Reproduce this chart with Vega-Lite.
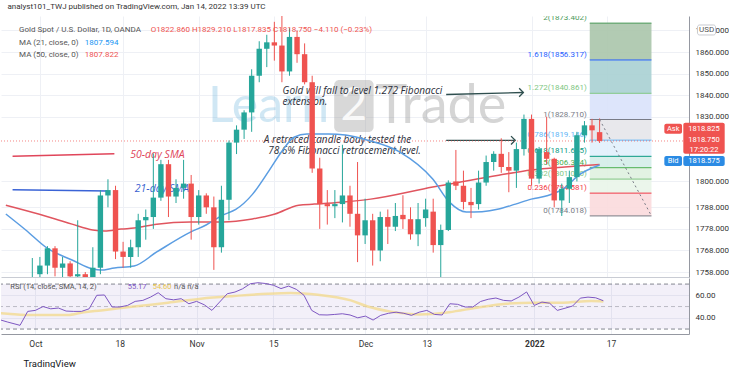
{
"$schema": "https://vega.github.io/schema/vega-lite/v6.json",
"background": "white",
"padding": {"left": 0, "top": 3, "right": 0, "bottom": 0},
"title": {"text": "analyst101_TWJ published on TradingView.com, Jan 14, 2022 13:39 UTC", "anchor": "start", "fontSize": 8, "font": "Roboto", "fontWeight": "normal", "color": "#333333", "offset": 5, "dx": 7},
"config": {"view": {"stroke": null}, "font": "Roboto", "axis": {"labelFont": "Roboto", "titleFont": "Roboto", "gridColor": "#eef0f5", "domainColor": "#9598a1", "ticks": false, "labelFontSize": 8, "labelColor": "#333333", "labelOverlap": false, "labelSeparation": 0, "labelFlush": false}},
"spacing": 1,
"datasets": {
"bars": [
{"t":-4,"o":1750,"h":1754,"l":1741,"c":1749},
{"t":-3,"o":1749,"h":1752,"l":1726,"c":1734},
{"t":-2,"o":1734,"h":1740,"l":1721,"c":1726},
{"t":-1,"o":1726,"h":1764.5,"l":1722,"c":1755.5},
{"t":0,"o":1757,"h":1765,"l":1746,"c":1761},
{"t":1,"o":1761,"h":1770,"l":1757,"c":1769},
{"t":2,"o":1769,"h":1770,"l":1756,"c":1760},
{"t":3,"o":1760,"h":1765,"l":1746,"c":1762},
{"t":4,"o":1762,"h":1763,"l":1752,"c":1756},
{"t":5,"o":1756,"h":1782,"l":1750,"c":1757},
{"t":6,"o":1757,"h":1758,"l":1746,"c":1754},
{"t":7,"o":1754,"h":1769.5,"l":1749,"c":1760},
{"t":8,"o":1760,"h":1796,"l":1757,"c":1793.5},
{"t":9,"o":1793.5,"h":1801,"l":1788,"c":1796},
{"t":10,"o":1796,"h":1798,"l":1764,"c":1767.5},
{"t":11,"o":1767.5,"h":1772,"l":1760,"c":1765},
{"t":12,"o":1765,"h":1773,"l":1760,"c":1769.5},
{"t":13,"o":1769.5,"h":1785,"l":1765,"c":1782},
{"t":14,"o":1782,"h":1787,"l":1773,"c":1783.5},
{"t":15,"o":1783.5,"h":1813,"l":1778,"c":1792.5},
{"t":16,"o":1792.5,"h":1810,"l":1791,"c":1808},
{"t":17,"o":1808,"h":1810,"l":1783.5,"c":1793},
{"t":18,"o":1793,"h":1801,"l":1790,"c":1797},
{"t":19,"o":1797,"h":1810,"l":1792,"c":1799},
{"t":20,"o":1799,"h":1803,"l":1773,"c":1783.5},
{"t":21,"o":1783.5,"h":1796,"l":1780,"c":1793.5},
{"t":22,"o":1793.5,"h":1794.5,"l":1785,"c":1788},
{"t":23,"o":1788,"h":1793,"l":1759,"c":1769.5},
{"t":24,"o":1769.5,"h":1798,"l":1767,"c":1791.5},
{"t":25,"o":1791.5,"h":1819,"l":1782,"c":1818},
{"t":26,"o":1818,"h":1826,"l":1812.7,"c":1824},
{"t":27,"o":1824,"h":1833,"l":1819.7,"c":1832},
{"t":28,"o":1832,"h":1852,"l":1823,"c":1849},
{"t":29,"o":1849,"h":1865,"l":1846,"c":1861.5},
{"t":30,"o":1861.5,"h":1868,"l":1853,"c":1864.5},
{"t":31,"o":1864.5,"h":1874,"l":1856,"c":1863},
{"t":32,"o":1863,"h":1877,"l":1846,"c":1851},
{"t":33,"o":1851,"h":1871,"l":1849,"c":1867},
{"t":34,"o":1867,"h":1870,"l":1855,"c":1859},
{"t":35,"o":1859,"h":1864,"l":1845,"c":1846},
{"t":36,"o":1846,"h":1849,"l":1804,"c":1806},
{"t":37,"o":1806,"h":1811,"l":1778,"c":1789.5},
{"t":38,"o":1789.5,"h":1796,"l":1780,"c":1788.5},
{"t":39,"o":1788.5,"h":1796,"l":1783,"c":1789.5},
{"t":40,"o":1789.5,"h":1817,"l":1781,"c":1793.5},
{"t":41,"o":1793.5,"h":1798,"l":1779,"c":1785},
{"t":42,"o":1785,"h":1809,"l":1762.6,"c":1775},
{"t":43,"o":1775,"h":1792,"l":1771,"c":1782},
{"t":44,"o":1782,"h":1785,"l":1761,"c":1768},
{"t":45,"o":1768,"h":1786,"l":1763,"c":1783.5},
{"t":46,"o":1783.5,"h":1787,"l":1771,"c":1779},
{"t":47,"o":1779,"h":1790,"l":1777,"c":1784},
{"t":48,"o":1784.5,"h":1793.6,"l":1778,"c":1782.5},
{"t":49,"o":1782.5,"h":1788,"l":1773,"c":1775.5},
{"t":50,"o":1775.5,"h":1790,"l":1770,"c":1782.5},
{"t":51,"o":1783,"h":1792,"l":1779,"c":1787},
{"t":52,"o":1786,"h":1792,"l":1767,"c":1770.5},
{"t":53,"o":1770.5,"h":1780,"l":1754,"c":1777.5},
{"t":54,"o":1777.5,"h":1800.5,"l":1777,"c":1799.5},
{"t":55,"o":1800,"h":1814.6,"l":1796,"c":1798},
{"t":56,"o":1798,"h":1805,"l":1787,"c":1790.5},
{"t":57,"o":1790.5,"h":1797,"l":1783,"c":1789},
{"t":58,"o":1789.5,"h":1805,"l":1787,"c":1799.5},
{"t":59,"o":1799.5,"h":1812,"l":1798,"c":1809},
{"t":60,"o":1809,"h":1814,"l":1805,"c":1812.8},
{"t":61,"o":1812.8,"h":1820,"l":1804,"c":1806.7},
{"t":62,"o":1806.7,"h":1813.6,"l":1795,"c":1805},
{"t":63,"o":1805,"h":1818,"l":1797,"c":1815},
{"t":64,"o":1815,"h":1831,"l":1812,"c":1829},
{"t":65,"o":1829,"h":1831,"l":1798,"c":1801.3},
{"t":66,"o":1801.3,"h":1816,"l":1799,"c":1815},
{"t":67,"o":1813.6,"h":1830,"l":1808,"c":1810.5},
{"t":68,"o":1810.5,"h":1811,"l":1788,"c":1791.2},
{"t":69,"o":1791.2,"h":1799,"l":1784,"c":1796.6},
{"t":70,"o":1796.6,"h":1805,"l":1790,"c":1802},
{"t":71,"o":1802,"h":1823,"l":1800,"c":1821.4},
{"t":72,"o":1821.4,"h":1828,"l":1818,"c":1826},
{"t":73,"o":1826,"h":1829,"l":1818,"c":1823.7},
{"t":74,"o":1822.86,"h":1829.21,"l":1817.835,"c":1818.75}
],
"ma21": [
{"t":-4.5,"v":1784.9},{"t":-1.87,"v":1777.5},{"t":1.12,"v":1768.7},{"t":4.25,"v":1763.6},{"t":6.99,"v":1759.4},{"t":8.03,"v":1758.9},{"t":9.85,"v":1759.9},{"t":12.46,"v":1760.8},{"t":15.45,"v":1767.3},{"t":19.9,"v":1776.5},{"t":21.97,"v":1779.8},{"t":24.18,"v":1784.4},{"t":25.9,"v":1787},{"t":28.1,"v":1794},{"t":30.3,"v":1805},{"t":32,"v":1814},{"t":33.6,"v":1820.5},{"t":35.3,"v":1822},{"t":38.2,"v":1822},{"t":40.4,"v":1821.5},{"t":43.34,"v":1819.1},{"t":47.6,"v":1813.6},{"t":51.94,"v":1801.1},{"t":54.15,"v":1790.4},{"t":56.37,"v":1785.8},{"t":58.45,"v":1786},{"t":60.67,"v":1787.2},{"t":62.88,"v":1789.5},{"t":64.97,"v":1791.8},{"t":67.18,"v":1793.5},{"t":69.4,"v":1797},{"t":71.09,"v":1802.5},{"t":74,"v":1807.594}
],
"ma50": [
{"t":-4.5,"v":1789},{"t":-0.18,"v":1784.9},{"t":2.03,"v":1782.6},{"t":4.25,"v":1780.2},{"t":6.99,"v":1777.5},{"t":8.55,"v":1777},{"t":10.76,"v":1777.9},{"t":12.46,"v":1778.4},{"t":15.45,"v":1780.2},{"t":19.9,"v":1781.2},{"t":24.18,"v":1781.2},{"t":28.09,"v":1782.6},{"t":31.09,"v":1784.9},{"t":34.22,"v":1789},{"t":36.3,"v":1789.5},{"t":39.82,"v":1790.4},{"t":43.73,"v":1791.8},{"t":51.94,"v":1797.4},{"t":60.67,"v":1802.9},{"t":64.97,"v":1805.3},{"t":69.4,"v":1806.7},{"t":74,"v":1807.822}
],
"rsi": [
{"t":-4.5,"v":38},{"t":-3.6,"v":36.2},{"t":-2,"v":33.3},{"t":-1,"v":45.7},{"t":0,"v":46.6},{"t":1,"v":50},{"t":2,"v":48},{"t":3,"v":48.7},{"t":4,"v":46},{"t":5,"v":45.7},{"t":6,"v":45.7},{"t":7,"v":48},{"t":8,"v":60},{"t":9,"v":60.3},{"t":10,"v":49.6},{"t":11,"v":49.6},{"t":12,"v":51},{"t":13,"v":54.6},{"t":14,"v":55.5},{"t":15,"v":58.4},{"t":16,"v":62.3},{"t":17,"v":57},{"t":18,"v":56},{"t":19,"v":57},{"t":20,"v":52.5},{"t":21,"v":54.6},{"t":22,"v":51.6},{"t":23,"v":46.6},{"t":24,"v":54},{"t":25,"v":61.4},{"t":26,"v":62.9},{"t":27,"v":65.8},{"t":28,"v":70.3},{"t":29,"v":71.2},{"t":30,"v":70.5},{"t":31,"v":69},{"t":32,"v":66},{"t":33,"v":68.2},{"t":34,"v":65.3},{"t":35,"v":60},{"t":36,"v":46.6},{"t":37,"v":42.7},{"t":38,"v":42.5},{"t":39,"v":43},{"t":40,"v":43.6},{"t":41,"v":42.5},{"t":42,"v":40},{"t":43,"v":41.5},{"t":44,"v":38},{"t":45,"v":42.2},{"t":46,"v":44},{"t":47,"v":45},{"t":48,"v":44},{"t":49,"v":42.2},{"t":50,"v":45},{"t":51,"v":46.6},{"t":52,"v":43},{"t":53,"v":42.5},{"t":54,"v":52.5},{"t":55,"v":52},{"t":56,"v":49.6},{"t":57,"v":49.6},{"t":58,"v":54.5},{"t":59,"v":56.5},{"t":60,"v":57.6},{"t":61,"v":55.5},{"t":62,"v":55},{"t":63,"v":58.4},{"t":64,"v":63},{"t":65,"v":51},{"t":66,"v":54},{"t":67,"v":53},{"t":68,"v":46.6},{"t":69,"v":48.5},{"t":70,"v":50.5},{"t":71,"v":57.5},{"t":72,"v":58.4},{"t":73,"v":57.8},{"t":74,"v":55.17}
],
"rsima": [
{"t":-4.5,"v":44},{"t":-3.6,"v":43.6},{"t":-0.2,"v":42.4},{"t":4.2,"v":42.5},{"t":6.3,"v":45},{"t":8.55,"v":46.6},{"t":12.85,"v":50},{"t":17.28,"v":53.4},{"t":21.58,"v":57},{"t":25.88,"v":59.4},{"t":30.31,"v":61.4},{"t":33.3,"v":62},{"t":36.8,"v":60.5},{"t":41.1,"v":55.5},{"t":43.3,"v":50},{"t":46.3,"v":45.5},{"t":50.1,"v":43},{"t":53.9,"v":45},{"t":57.5,"v":49},{"t":61.3,"v":52.5},{"t":65,"v":53.5},{"t":68.7,"v":53.5},{"t":72.4,"v":55},{"t":74,"v":54.6}
],
"fib": [
{"lvl":"0","p":1784.018,"p2":1794.581,"label":"0(1784.018)"},
{"lvl":"0.236","p":1794.581,"p2":1801.09,"label":"0.236(1794.581)"},
{"lvl":"0.382","p":1801.09,"p2":1806.374,"label":"0.382(1801.090)"},
{"lvl":"0.5","p":1806.374,"p2":1811.645,"label":"0.5(1806.374)"},
{"lvl":"0.618","p":1811.645,"p2":1819.146,"label":"0.618(1811.645)"},
{"lvl":"0.786","p":1819.146,"p2":1828.71,"label":"0.786(1819.146)"},
{"lvl":"1","p":1828.71,"p2":1840.861,"label":"1(1828.710)"},
{"lvl":"1.272","p":1840.861,"p2":1856.317,"label":"1.272(1840.861)"},
{"lvl":"1.618","p":1856.317,"p2":1873.402,"label":"1.618(1856.317)"},
{"lvl":"2","p":1873.402,"p2":null,"label":"2(1873.402)"}
],
"notes": [
{"kind":"hdr","text":"Gold Spot / U.S. Dollar, 1D, OANDA","t":-2.75,"p":1870.2},
{"kind":"ohlc","text":"O1822.860 H1829.210 L1817.835 C1818.750 −4.110 (−0.23%)","t":14.67,"p":1870.2},
{"kind":"hdr","text":"MA (21, close, 0)","t":-2.75,"p":1864.18},
{"kind":"ma21v","text":"1807.594","t":5.94,"p":1864.18},
{"kind":"hdr","text":"MA (50, close, 0)","t":-2.75,"p":1858.62},
{"kind":"ohlc","text":"1807.822","t":5.94,"p":1858.62},
{"kind":"ann","text":"Gold will fall to level 1.272 Fibonacci","t":32.09,"p":1841.93},
{"kind":"ann","text":"extension.","t":32.09,"p":1836.6},
{"kind":"ann","text":"A retraced candle body tested the","t":29.6,"p":1819.07},
{"kind":"ann","text":"78.6% Fibonacci retracement level.","t":30.18,"p":1813.97},
{"kind":"sma50","text":"50-day SMA","t":11.94,"p":1812.4},
{"kind":"sma21","text":"21-day SMA","t":12.55,"p":1796.64},
{"kind":"wm_learn","text":"Learn","t":22.23,"p":1834.5},
{"kind":"wm_2","text":"2","t":41.51,"p":1834.97},
{"kind":"wm_trade","text":"Trade","t":44.38,"p":1834.5},
{"kind":"tag","text":"Ask","t":83.73,"p":1824.45},
{"kind":"tag","text":"1818.825","t":87.8,"p":1824.54},
{"kind":"tag","text":"1818.750","t":87.8,"p":1819.3},
{"kind":"tag","text":"17:20:22","t":87.8,"p":1814.7},
{"kind":"tag","text":"Bid","t":83.73,"p":1809.5},
{"kind":"tag","text":"1818.575","t":87.8,"p":1809.5},
{"kind":"usd","text":"USD","t":88.14,"p":1870.2}
],
"segs": [
{"kind":"sma50","t":-3.61,"p":1811.66,"t2":9.85,"p2":1812.86},
{"kind":"sma21","t":-3.61,"p":1796.17,"t2":8.98,"p2":1795.57},
{"kind":"arrow","t":53.72,"p":1840.31,"t2":63.92,"p2":1841.24},
{"kind":"arrow","t":53.72,"p":1819.07,"t2":62.84,"p2":1819.07},
{"kind":"fibtrend","t":74,"p":1828.71,"t2":80.86,"p2":1784.018}
],
"rnotes": [
{"kind":"lab","text":"RSI (14, close, SMA, 14, 2)","t":-3.27,"v":67.4},
{"kind":"v1","text":"55.17","t":12.03,"v":67.4},
{"kind":"v2","text":"54.60","t":15.28,"v":67.4},
{"kind":"lab","text":"n/a  n/a","t":18.06,"v":67.4}
],
"rlevels": [{"v":70},{"v":50},{"v":30}]
},
"vconcat": [
{
"width": 688, "height": 261,
"resolve": {"scale": {"color": "independent"}},
"layer": [
{"data": {"name": "fib"}, "transform": [{"filter": "datum.p2 != null"}],
 "mark": {"type": "rect", "opacity": 0.9},
 "encoding": {
  "x": {"datum": 72.7, "type": "quantitative", "scale": {"domain": [-4.48, 85.16], "nice": false, "zero": false}, "title": null},
  "x2": {"datum": 80.86},
  "y": {"field": "p", "type": "quantitative", "scale": {"domain": [1755.7, 1876.7], "nice": false, "zero": false}, "title": null,
        "axis": {"orient": "right", "values": [1758,1768,1778,1788,1800,1830,1840,1850,1860,1870], "tickCount": 30, "format": ".3f", "grid": true, "gridColor": "#eef0f5", "domain": true, "domainColor": "#9598a1", "ticks": false, "labelPadding": 6, "labelFontSize": 8, "labelColor": "#333333", "labelOverlap": false, "labelFlush": false, "title": null}},
  "y2": {"field": "p2"},
  "color": {"field": "lvl", "type": "nominal", "legend": null,
    "scale": {"domain": ["0","0.236","0.382","0.5","0.618","0.786","1","1.272","1.618"],
              "range": ["#fbdadd","#e9f5e9","#dff1e0","#d4ede9","#e1effc","#e6e6ea","#d9e2fb","#a9d0d3","#aac5ab"]}}
 }},
{"data": {"name": "fib"},
 "mark": {"type": "rule", "strokeWidth": 1},
 "encoding": {
  "x": {"datum": 72.7, "type": "quantitative", "scale": {"domain": [-4.48, 85.16], "nice": false, "zero": false}, "title": null},
  "x2": {"datum": 80.86},
  "y": {"field": "p", "type": "quantitative", "scale": {"domain": [1755.7, 1876.7], "nice": false, "zero": false}, "title": null},
  "color": {"field": "lvl", "type": "nominal", "legend": null,
    "scale": {"domain": ["0","0.236","0.382","0.5","0.618","0.786","1","1.272","1.618","2"],
              "range": ["#787b86","#f23645","#81c784","#4caf50","#089981","#64b5f6","#787b86","#81c784","#2962ff","#4c9a5a"]}}
 }},
{"data": {"name": "fib"},
 "mark": {"type": "text", "align": "right", "baseline": "bottom", "dx": -3, "dy": -1, "fontSize": 8, "clip": true},
 "encoding": {
  "x": {"datum": 72.7, "type": "quantitative", "scale": {"domain": [-4.48, 85.16], "nice": false, "zero": false}, "title": null},
  "y": {"field": "p", "type": "quantitative", "scale": {"domain": [1755.7, 1876.7], "nice": false, "zero": false}, "title": null},
  "text": {"field": "label"},
  "color": {"field": "lvl", "type": "nominal", "legend": null,
    "scale": {"domain": ["0","0.236","0.382","0.5","0.618","0.786","1","1.272","1.618","2"],
              "range": ["#787b86","#f23645","#81c784","#4caf50","#089981","#64b5f6","#787b86","#81c784","#2962ff","#4c9a5a"]}}
 }},
{"data": {"name": "notes"}, "transform": [{"filter": "datum.kind == 'wm_learn'"}],
 "mark": {"type": "text", "align": "left", "baseline": "middle", "font": "Lato", "fontSize": 50, "color": "#6fb8de", "opacity": 0.32},
 "encoding": {
  "x": {"field": "t", "type": "quantitative", "scale": {"domain": [-4.48, 85.16], "nice": false, "zero": false}, "title": null},
  "y": {"field": "p", "type": "quantitative", "scale": {"domain": [1755.7, 1876.7], "nice": false, "zero": false}, "title": null},
  "text": {"field": "text"}}},
{"data": {"values": [{"name": "box2"}]},
 "mark": {"type": "rect", "color": "#9e9e9e", "opacity": 0.4, "cornerRadius": 5},
 "encoding": {
  "x": {"datum": 38.91, "type": "quantitative", "scale": {"domain": [-4.48, 85.16], "nice": false, "zero": false}, "title": null},
  "x2": {"datum": 44.12},
  "y": {"datum": 1847.03, "type": "quantitative", "scale": {"domain": [1755.7, 1876.7], "nice": false, "zero": false}, "title": null},
  "y2": {"datum": 1822.92}}},
{"data": {"name": "notes"}, "transform": [{"filter": "datum.kind == 'wm_2'"}],
 "mark": {"type": "text", "align": "center", "baseline": "middle", "font": "Lato", "fontSize": 46, "color": "#ffffff", "opacity": 0.85},
 "encoding": {
  "x": {"field": "t", "type": "quantitative", "scale": {"domain": [-4.48, 85.16], "nice": false, "zero": false}, "title": null},
  "y": {"field": "p", "type": "quantitative", "scale": {"domain": [1755.7, 1876.7], "nice": false, "zero": false}, "title": null},
  "text": {"field": "text"}}},
{"data": {"name": "notes"}, "transform": [{"filter": "datum.kind == 'wm_trade'"}],
 "mark": {"type": "text", "align": "left", "baseline": "middle", "font": "Lato", "fontSize": 54, "color": "#8a8a8a", "opacity": 0.35},
 "encoding": {
  "x": {"field": "t", "type": "quantitative", "scale": {"domain": [-4.48, 85.16], "nice": false, "zero": false}, "title": null},
  "y": {"field": "p", "type": "quantitative", "scale": {"domain": [1755.7, 1876.7], "nice": false, "zero": false}, "title": null},
  "text": {"field": "text"}}},
{"data": {"name": "notes"}, "transform": [{"filter": "datum.kind == 'ann'"}],
 "mark": {"type": "text", "align": "left", "baseline": "middle", "font": "Open Sans", "fontStyle": "italic", "fontSize": 10, "color": "#2a2e39"},
 "encoding": {
  "x": {"field": "t", "type": "quantitative", "scale": {"domain": [-4.48, 85.16], "nice": false, "zero": false}, "title": null},
  "y": {"field": "p", "type": "quantitative", "scale": {"domain": [1755.7, 1876.7], "nice": false, "zero": false}, "title": null},
  "text": {"field": "text"}}},
{"data": {"name": "notes"}, "transform": [{"filter": "datum.kind == 'sma50'"}],
 "mark": {"type": "text", "align": "left", "baseline": "middle", "font": "Open Sans", "fontStyle": "italic", "fontSize": 10.5, "color": "#e0455a"},
 "encoding": {
  "x": {"field": "t", "type": "quantitative", "scale": {"domain": [-4.48, 85.16], "nice": false, "zero": false}, "title": null},
  "y": {"field": "p", "type": "quantitative", "scale": {"domain": [1755.7, 1876.7], "nice": false, "zero": false}, "title": null},
  "text": {"field": "text"}}},
{"data": {"name": "notes"}, "transform": [{"filter": "datum.kind == 'sma21'"}],
 "mark": {"type": "text", "align": "left", "baseline": "middle", "font": "Open Sans", "fontStyle": "italic", "fontSize": 10.5, "color": "#3a5fd0"},
 "encoding": {
  "x": {"field": "t", "type": "quantitative", "scale": {"domain": [-4.48, 85.16], "nice": false, "zero": false}, "title": null},
  "y": {"field": "p", "type": "quantitative", "scale": {"domain": [1755.7, 1876.7], "nice": false, "zero": false}, "title": null},
  "text": {"field": "text"}}},
{"data": {"name": "segs"}, "transform": [{"filter": "datum.kind == 'sma50'"}],
 "mark": {"type": "rule", "strokeWidth": 1.5, "color": "#e0455a"},
 "encoding": {
  "x": {"field": "t", "type": "quantitative", "scale": {"domain": [-4.48, 85.16], "nice": false, "zero": false}, "title": null},
  "x2": {"field": "t2"},
  "y": {"field": "p", "type": "quantitative", "scale": {"domain": [1755.7, 1876.7], "nice": false, "zero": false}, "title": null},
  "y2": {"field": "p2"}}},
{"data": {"name": "segs"}, "transform": [{"filter": "datum.kind == 'sma21'"}],
 "mark": {"type": "rule", "strokeWidth": 1.5, "color": "#3a63d6"},
 "encoding": {
  "x": {"field": "t", "type": "quantitative", "scale": {"domain": [-4.48, 85.16], "nice": false, "zero": false}, "title": null},
  "x2": {"field": "t2"},
  "y": {"field": "p", "type": "quantitative", "scale": {"domain": [1755.7, 1876.7], "nice": false, "zero": false}, "title": null},
  "y2": {"field": "p2"}}},
{"data": {"name": "segs"}, "transform": [{"filter": "datum.kind == 'arrow'"}],
 "mark": {"type": "rule", "strokeWidth": 1.3, "color": "#2f4f4f"},
 "encoding": {
  "x": {"field": "t", "type": "quantitative", "scale": {"domain": [-4.48, 85.16], "nice": false, "zero": false}, "title": null},
  "x2": {"field": "t2"},
  "y": {"field": "p", "type": "quantitative", "scale": {"domain": [1755.7, 1876.7], "nice": false, "zero": false}, "title": null},
  "y2": {"field": "p2"}}},
{"data": {"name": "segs"}, "transform": [{"filter": "datum.kind == 'arrow'"}],
 "mark": {"type": "point", "shape": "M-1,-1L0,0L-1,1", "filled": false, "size": 70, "strokeWidth": 1.3, "color": "#2f4f4f", "opacity": 1},
 "encoding": {
  "x": {"field": "t2", "type": "quantitative", "scale": {"domain": [-4.48, 85.16], "nice": false, "zero": false}, "title": null},
  "y": {"field": "p2", "type": "quantitative", "scale": {"domain": [1755.7, 1876.7], "nice": false, "zero": false}, "title": null}}},
{"data": {"values": [{"price": "last"}]},
 "mark": {"type": "rule", "color": "#ef5350", "strokeDash": [1, 2], "strokeWidth": 1, "opacity": 0.7},
 "encoding": {
  "y": {"datum": 1818.75, "type": "quantitative", "scale": {"domain": [1755.7, 1876.7], "nice": false, "zero": false}, "title": null}}},
{"data": {"name": "ma50"},
 "mark": {"type": "line", "color": "#e0555f", "strokeWidth": 1.5, "interpolate": "monotone", "clip": true},
 "encoding": {
  "x": {"field": "t", "type": "quantitative", "scale": {"domain": [-4.48, 85.16], "nice": false, "zero": false}, "title": null},
  "y": {"field": "v", "type": "quantitative", "scale": {"domain": [1755.7, 1876.7], "nice": false, "zero": false}, "title": null}}},
{"data": {"name": "ma21"},
 "mark": {"type": "line", "color": "#5b9de2", "strokeWidth": 1.5, "interpolate": "monotone", "clip": true},
 "encoding": {
  "x": {"field": "t", "type": "quantitative", "scale": {"domain": [-4.48, 85.16], "nice": false, "zero": false}, "title": null},
  "y": {"field": "v", "type": "quantitative", "scale": {"domain": [1755.7, 1876.7], "nice": false, "zero": false}, "title": null}}},
{"data": {"name": "bars"},
 "mark": {"type": "rule", "strokeWidth": 1, "clip": true},
 "encoding": {
  "x": {"field": "t", "type": "quantitative", "scale": {"domain": [-4.48, 85.16], "nice": false, "zero": false}, "title": null,
        "axis": {"values": [0,11,21,31,43,51,65,75], "tickCount": 30, "labels": false, "ticks": false, "grid": true, "gridColor": "#eef0f5", "domain": true, "domainColor": "#c9ccd4", "title": null}},
  "y": {"field": "l", "type": "quantitative", "scale": {"domain": [1755.7, 1876.7], "nice": false, "zero": false}, "title": null},
  "y2": {"field": "h"},
  "color": {"condition": {"test": "datum.c >= datum.o", "value": "#26a69a"}, "value": "#ef5350"}}},
{"data": {"name": "bars"},
 "mark": {"type": "bar", "size": 5.4, "clip": true},
 "encoding": {
  "x": {"field": "t", "type": "quantitative", "scale": {"domain": [-4.48, 85.16], "nice": false, "zero": false}, "title": null},
  "y": {"field": "o", "type": "quantitative", "scale": {"domain": [1755.7, 1876.7], "nice": false, "zero": false}, "title": null},
  "y2": {"field": "c"},
  "color": {"condition": {"test": "datum.c >= datum.o", "value": "#26a69a"}, "value": "#ef5350"}}},
{"data": {"name": "segs"}, "transform": [{"filter": "datum.kind == 'fibtrend'"}],
 "mark": {"type": "rule", "strokeWidth": 1, "strokeDash": [2, 3], "color": "#787b86"},
 "encoding": {
  "x": {"field": "t", "type": "quantitative", "scale": {"domain": [-4.48, 85.16], "nice": false, "zero": false}, "title": null},
  "x2": {"field": "t2"},
  "y": {"field": "p", "type": "quantitative", "scale": {"domain": [1755.7, 1876.7], "nice": false, "zero": false}, "title": null},
  "y2": {"field": "p2"}}},
{"data": {"name": "notes"}, "transform": [{"filter": "datum.kind == 'hdr'"}],
 "mark": {"type": "text", "align": "left", "baseline": "middle", "fontSize": 8, "color": "#555555"},
 "encoding": {
  "x": {"field": "t", "type": "quantitative", "scale": {"domain": [-4.48, 85.16], "nice": false, "zero": false}, "title": null},
  "y": {"field": "p", "type": "quantitative", "scale": {"domain": [1755.7, 1876.7], "nice": false, "zero": false}, "title": null},
  "text": {"field": "text"}}},
{"data": {"name": "notes"}, "transform": [{"filter": "datum.kind == 'ohlc'"}],
 "mark": {"type": "text", "align": "left", "baseline": "middle", "fontSize": 8, "color": "#ef5350"},
 "encoding": {
  "x": {"field": "t", "type": "quantitative", "scale": {"domain": [-4.48, 85.16], "nice": false, "zero": false}, "title": null},
  "y": {"field": "p", "type": "quantitative", "scale": {"domain": [1755.7, 1876.7], "nice": false, "zero": false}, "title": null},
  "text": {"field": "text"}}},
{"data": {"name": "notes"}, "transform": [{"filter": "datum.kind == 'ma21v'"}],
 "mark": {"type": "text", "align": "left", "baseline": "middle", "fontSize": 8, "color": "#2196f3"},
 "encoding": {
  "x": {"field": "t", "type": "quantitative", "scale": {"domain": [-4.48, 85.16], "nice": false, "zero": false}, "title": null},
  "y": {"field": "p", "type": "quantitative", "scale": {"domain": [1755.7, 1876.7], "nice": false, "zero": false}, "title": null},
  "text": {"field": "text"}}},
{"data": {"values": [{"box": "last"}]},
 "mark": {"type": "rect", "color": "#ef5350", "cornerRadius": 2},
 "encoding": {
  "x": {"datum": 85.07, "type": "quantitative", "scale": {"domain": [-4.48, 85.16], "nice": false, "zero": false}, "title": null},
  "x2": {"datum": 90.54},
  "y": {"datum": 1812.86, "type": "quantitative", "scale": {"domain": [1755.7, 1876.7], "nice": false, "zero": false}, "title": null},
  "y2": {"datum": 1827.23}}},
{"data": {"values": [{"box": "ask"}]},
 "mark": {"type": "rect", "color": "#ef5350", "cornerRadius": 2},
 "encoding": {
  "x": {"datum": 82.56, "type": "quantitative", "scale": {"domain": [-4.48, 85.16], "nice": false, "zero": false}, "title": null},
  "x2": {"datum": 84.9},
  "y": {"datum": 1822.13, "type": "quantitative", "scale": {"domain": [1755.7, 1876.7], "nice": false, "zero": false}, "title": null},
  "y2": {"datum": 1826.77}}},
{"data": {"values": [{"box": "bid"}]},
 "mark": {"type": "rect", "color": "#2b8be4", "cornerRadius": 2},
 "encoding": {
  "x": {"datum": 82.56, "type": "quantitative", "scale": {"domain": [-4.48, 85.16], "nice": false, "zero": false}, "title": null},
  "x2": {"datum": 84.9},
  "y": {"datum": 1807.16, "type": "quantitative", "scale": {"domain": [1755.7, 1876.7], "nice": false, "zero": false}, "title": null},
  "y2": {"datum": 1811.79}}},
{"data": {"values": [{"box": "bidv"}]},
 "mark": {"type": "rect", "color": "#2b8be4", "cornerRadius": 2},
 "encoding": {
  "x": {"datum": 85.07, "type": "quantitative", "scale": {"domain": [-4.48, 85.16], "nice": false, "zero": false}, "title": null},
  "x2": {"datum": 90.54},
  "y": {"datum": 1807.16, "type": "quantitative", "scale": {"domain": [1755.7, 1876.7], "nice": false, "zero": false}, "title": null},
  "y2": {"datum": 1811.79}}},
{"data": {"values": [{"box": "usd"}]},
 "mark": {"type": "rect", "fill": "#ffffff", "stroke": "#c8cad0", "strokeWidth": 1, "cornerRadius": 2},
 "encoding": {
  "x": {"datum": 86.95, "type": "quantitative", "scale": {"domain": [-4.48, 85.16], "nice": false, "zero": false}, "title": null},
  "x2": {"datum": 89.33},
  "y": {"datum": 1867.9, "type": "quantitative", "scale": {"domain": [1755.7, 1876.7], "nice": false, "zero": false}, "title": null},
  "y2": {"datum": 1872.53}}},
{"data": {"name": "notes"}, "transform": [{"filter": "datum.kind == 'tag'"}],
 "mark": {"type": "text", "align": "center", "baseline": "middle", "fontSize": 7.5, "color": "#ffffff"},
 "encoding": {
  "x": {"field": "t", "type": "quantitative", "scale": {"domain": [-4.48, 85.16], "nice": false, "zero": false}, "title": null},
  "y": {"field": "p", "type": "quantitative", "scale": {"domain": [1755.7, 1876.7], "nice": false, "zero": false}, "title": null},
  "text": {"field": "text"}}},
{"data": {"name": "notes"}, "transform": [{"filter": "datum.kind == 'usd'"}],
 "mark": {"type": "text", "align": "center", "baseline": "middle", "fontSize": 8, "color": "#555555"},
 "encoding": {
  "x": {"field": "t", "type": "quantitative", "scale": {"domain": [-4.48, 85.16], "nice": false, "zero": false}, "title": null},
  "y": {"field": "p", "type": "quantitative", "scale": {"domain": [1755.7, 1876.7], "nice": false, "zero": false}, "title": null},
  "text": {"field": "text"}}}
]
},
{
"width": 688, "height": 56,
"layer": [
{"data": {"values": [{"zone": "rsi"}]},
 "mark": {"type": "rect", "color": "#7e57c2", "opacity": 0.09},
 "encoding": {
  "x": {"datum": -4.48, "type": "quantitative", "scale": {"domain": [-4.48, 85.16], "nice": false, "zero": false}, "title": "TradingView"},
  "x2": {"datum": 85.16},
  "y": {"datum": 30, "type": "quantitative", "scale": {"domain": [25.6, 75.4], "nice": false, "zero": false}, "title": null},
  "y2": {"datum": 70}}},
{"data": {"name": "rlevels"},
 "mark": {"type": "rule", "color": "#787b86", "strokeDash": [4, 3], "strokeWidth": 1},
 "encoding": {
  "y": {"field": "v", "type": "quantitative", "scale": {"domain": [25.6, 75.4], "nice": false, "zero": false}, "title": null},
  "opacity": {"condition": {"test": "datum.v == 50", "value": 0.45}, "value": 0.9}}},
{"data": {"name": "rsima"},
 "mark": {"type": "line", "color": "#f3d98a", "strokeWidth": 2.5, "opacity": 0.75, "interpolate": "monotone", "clip": true},
 "encoding": {
  "x": {"field": "t", "type": "quantitative", "scale": {"domain": [-4.48, 85.16], "nice": false, "zero": false}, "title": "TradingView"},
  "y": {"field": "v", "type": "quantitative", "scale": {"domain": [25.6, 75.4], "nice": false, "zero": false}, "title": null}}},
{"data": {"name": "rsi"},
 "mark": {"type": "line", "color": "#7e57c2", "strokeWidth": 1, "clip": true},
 "encoding": {
  "x": {"field": "t", "type": "quantitative", "scale": {"domain": [-4.48, 85.16], "nice": false, "zero": false}, "title": "TradingView",
        "axis": {"values": [0,11,21,31,43,51,65,75], "tickCount": 30, "labelExpr": "datum.value==0?'Oct':datum.value==11?'18':datum.value==21?'Nov':datum.value==31?'15':datum.value==43?'Dec':datum.value==51?'13':datum.value==65?'2022':datum.value==75?'17':''",
                 "labelFontSize": 8.5, "labelColor": "#333333", "labelPadding": 5, "labelFlush": false, "labelOverlap": false,
                 "labelFontWeight": {"condition": {"test": "datum.value == 65", "value": "bold"}, "value": "normal"},
                 "ticks": false, "grid": true, "gridColor": "#eef0f5", "domain": true, "domainColor": "#9598a1",
                 "title": "TradingView", "titleX": 22, "titleY": 29, "titleAnchor": "start", "titleAlign": "left", "titleBaseline": "middle", "titleFontSize": 9.5, "titleFontWeight": "normal", "titleColor": "#131722"}},
  "y": {"field": "v", "type": "quantitative", "scale": {"domain": [25.6, 75.4], "nice": false, "zero": false}, "title": null,
        "axis": {"orient": "right", "values": [40, 60], "tickCount": 10, "format": ".2f", "grid": true, "gridColor": "#eef0f5", "domain": true, "domainColor": "#9598a1", "ticks": false, "labelPadding": 6, "labelFontSize": 8, "labelColor": "#333333", "labelFlush": false, "title": null}}}},
{"data": {"name": "rnotes"}, "transform": [{"filter": "datum.kind == 'lab'"}],
 "mark": {"type": "text", "align": "left", "baseline": "middle", "fontSize": 7.5, "color": "#555555"},
 "encoding": {
  "x": {"field": "t", "type": "quantitative", "scale": {"domain": [-4.48, 85.16], "nice": false, "zero": false}, "title": "TradingView"},
  "y": {"field": "v", "type": "quantitative", "scale": {"domain": [25.6, 75.4], "nice": false, "zero": false}, "title": null},
  "text": {"field": "text"}}},
{"data": {"name": "rnotes"}, "transform": [{"filter": "datum.kind == 'v1'"}],
 "mark": {"type": "text", "align": "left", "baseline": "middle", "fontSize": 7.5, "color": "#7e57c2"},
 "encoding": {
  "x": {"field": "t", "type": "quantitative", "scale": {"domain": [-4.48, 85.16], "nice": false, "zero": false}, "title": "TradingView"},
  "y": {"field": "v", "type": "quantitative", "scale": {"domain": [25.6, 75.4], "nice": false, "zero": false}, "title": null},
  "text": {"field": "text"}}},
{"data": {"name": "rnotes"}, "transform": [{"filter": "datum.kind == 'v2'"}],
 "mark": {"type": "text", "align": "left", "baseline": "middle", "fontSize": 7.5, "color": "#e8c34a"},
 "encoding": {
  "x": {"field": "t", "type": "quantitative", "scale": {"domain": [-4.48, 85.16], "nice": false, "zero": false}, "title": "TradingView"},
  "y": {"field": "v", "type": "quantitative", "scale": {"domain": [25.6, 75.4], "nice": false, "zero": false}, "title": null},
  "text": {"field": "text"}}}
]
}
]
}
